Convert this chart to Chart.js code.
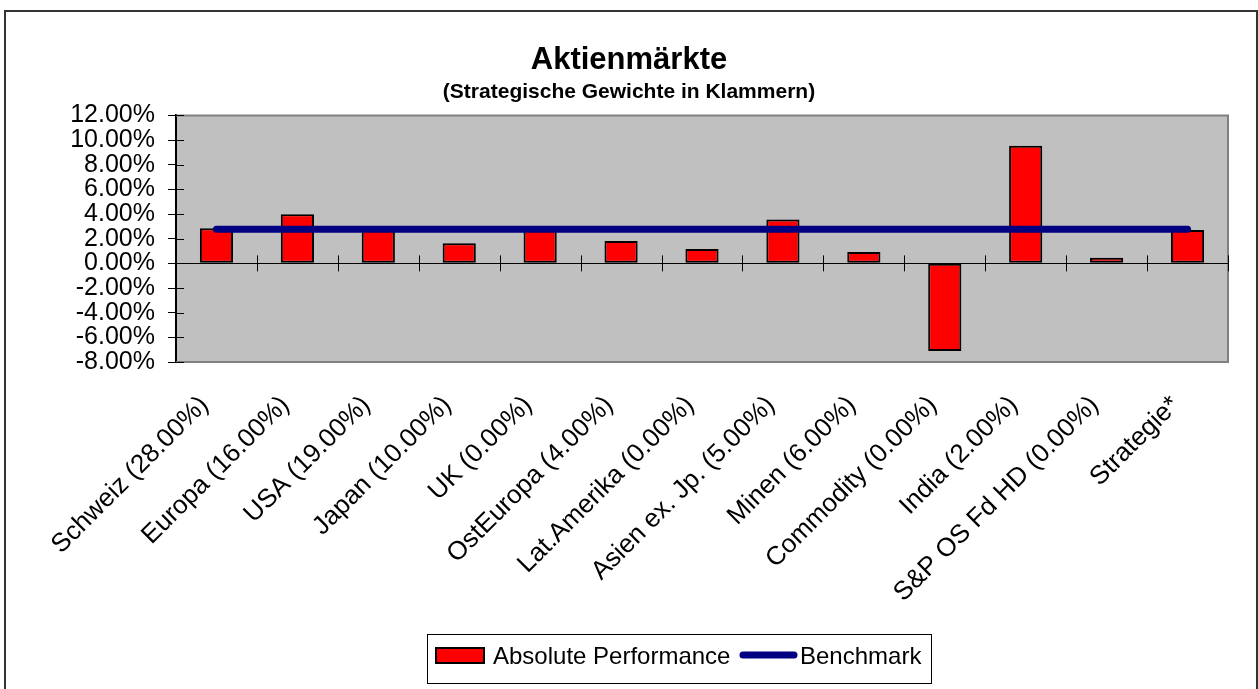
<!DOCTYPE html>
<html>
<head>
<meta charset="utf-8">
<script src="https://cdn.jsdelivr.net/npm/chart.js@4/dist/chart.umd.min.js"></script>
<style>
	html, body { margin: 0; padding: 0; background: #fff; }
	#wrap { width: 1258px; height: 689px; }
</style>
</head>
<body>
<div id="wrap"><canvas id="aktien"></canvas></div>
<script>
const categories = [
	'Schweiz (28.00%)', 'Europa (16.00%)', 'USA (19.00%)', 'Japan (10.00%)',
	'UK (0.00%)', 'OstEuropa (4.00%)', 'Lat.Amerika (0.00%)', 'Asien ex. Jp. (5.00%)',
	'Minen (6.00%)', 'Commodity (0.00%)', 'India (2.00%)', 'S&P OS Fd HD (0.00%)',
	'Strategie*'
];
// values in percent
const performance = [2.85, 3.98, 2.70, 1.63, 2.70, 1.81, 1.16, 3.55, 0.92, -7.10, 9.54, 0.46, 2.71];
const benchmark = [2.76, 2.76, 2.76, 2.76, 2.76, 2.76, 2.76, 2.76, 2.76, 2.76, 2.76, 2.76, 2.76];
const yMin = -8;
const yMax = 12;
const yStep = 2;

const FONT = '"Liberation Sans", Arial, sans-serif';

// gray plot area, outer frame, zero line and the little cross ticks
const excelFrame = {
	id: 'excelFrame',
	beforeDraw(chart) {
		const {ctx, chartArea: a} = chart;
		ctx.save();
		ctx.fillStyle = '#C0C0C0';
		ctx.fillRect(a.left, a.top, a.right - a.left, a.bottom - a.top);
		ctx.strokeStyle = '#333333';
		ctx.lineWidth = 2;
		ctx.strokeRect(5, 11, 1252, 700);
		ctx.restore();
	},
	beforeDatasetsDraw(chart) {
		const {ctx, chartArea: a, scales: {x, y}} = chart;
		const y0 = y.getPixelForValue(0);
		ctx.save();
		ctx.strokeStyle = '#808080';
		ctx.lineWidth = 2;
		ctx.beginPath();
		ctx.moveTo(a.left, a.top);
		ctx.lineTo(a.right, a.top);
		ctx.lineTo(a.right, a.bottom);
		ctx.lineTo(a.left, a.bottom);
		ctx.stroke();
		ctx.strokeStyle = '#000';
		ctx.lineWidth = 1;
		ctx.beginPath();
		ctx.moveTo(a.left, Math.round(y0) + 0.5);
		ctx.lineTo(a.right, Math.round(y0) + 0.5);
		// category ticks crossing the zero line
		for (let i = 1; i <= categories.length; i++) {
			let bx = i < categories.length
				? (x.getPixelForValue(i - 1) + x.getPixelForValue(i)) / 2
				: a.right;
			bx = Math.round(bx) + 0.5;
			ctx.moveTo(bx, y0 - 8);
			ctx.lineTo(bx, y0 + 8);
		}
		// inner half of the value ticks
		y.ticks.forEach(t => {
			const py = Math.round(y.getPixelForValue(t.value)) + 0.5;
			ctx.moveTo(a.left, py);
			ctx.lineTo(a.left + 8, py);
		});
		ctx.stroke();
		ctx.restore();
	},
	afterDraw(chart) {
		const {ctx} = chart;
		const ds = chart.data.datasets;
		ctx.save();
		// legend frame
		ctx.strokeStyle = '#000';
		ctx.lineWidth = 1;
		ctx.strokeRect(427.5, 634.5, 504, 49);
		// bar swatch
		ctx.fillStyle = ds[0].backgroundColor;
		ctx.fillRect(435, 647, 50, 17);
		ctx.lineWidth = 2;
		ctx.strokeRect(436, 648, 48, 15);
		ctx.font = '24px ' + FONT;
		ctx.fillStyle = '#000';
		ctx.textBaseline = 'middle';
		ctx.fillText(ds[0].label, 493, 657);
		// line swatch
		ctx.strokeStyle = ds[1].borderColor;
		ctx.lineWidth = 7;
		ctx.lineCap = 'round';
		ctx.beginPath();
		ctx.moveTo(743, 655);
		ctx.lineTo(794, 655);
		ctx.stroke();
		ctx.fillText(ds[1].label, 800, 657);
		ctx.restore();
	}
};

const data_aktien = {
	labels: categories,
	datasets: [
		{
			type: 'bar',
			label: 'Absolute Performance',
			data: performance,
			backgroundColor: '#FF0000',
			borderColor: '#000000',
			borderWidth: 2,
			borderSkipped: false,
			categoryPercentage: 1,
			barPercentage: 0.41,
			order: 1
		},
		{
			type: 'line',
			label: 'Benchmark',
			data: benchmark,
			borderColor: '#000080',
			backgroundColor: '#000080',
			borderWidth: 7,
			borderCapStyle: 'round',
			pointRadius: 0,
			tension: 0,
			order: 0
		}
	]
};

const config_aktien = {
	data: data_aktien,
	plugins: [excelFrame],
	options: {
		responsive: true,
		maintainAspectRatio: false,
		animation: false,
		layout: {
			padding: { left: 30, right: 30, top: 0, bottom: 0 }
		},
		plugins: {
			legend: { display: false },
			tooltip: { enabled: false },
			title: {
				display: true,
				text: 'Aktienmärkte',
				color: '#000',
				font: { family: FONT, size: 31, weight: 'bold', lineHeight: 1.2 },
				padding: { top: 42, bottom: 0 }
			},
			subtitle: {
				display: true,
				text: '(Strategische Gewichte in Klammern)',
				color: '#000',
				font: { family: FONT, size: 21, weight: 'bold', lineHeight: 1.2 },
				padding: { top: 0, bottom: 11 }
			}
		},
		scales: {
			x: {
				type: 'category',
				offset: true,
				grid: { display: false, drawTicks: false },
				border: { display: false },
				ticks: {
					color: '#000',
					font: { family: FONT, size: 26 },
					maxRotation: 45,
					minRotation: 45,
					autoSkip: false,
					padding: 28,
					labelOffset: -12
				},
				afterFit(scale) { scale.height = 327; }
			},
			y: {
				type: 'linear',
				min: yMin,
				max: yMax,
				grid: {
					drawOnChartArea: false,
					drawTicks: true,
					tickLength: 8,
					color: '#000'
				},
				border: { display: true, color: '#000', width: 2 },
				ticks: {
					stepSize: yStep,
					autoSkip: false,
					color: '#000',
					padding: 13,
					font: { family: FONT, size: 25, lineHeight: 1 },
					callback: v => v.toFixed(2) + '%'
				},
				afterFit(scale) { scale.width = 146; }
			}
		}
	}
};

const aktien = new Chart(
	document.getElementById('aktien'),
	config_aktien
);
</script>
</body>
</html>
